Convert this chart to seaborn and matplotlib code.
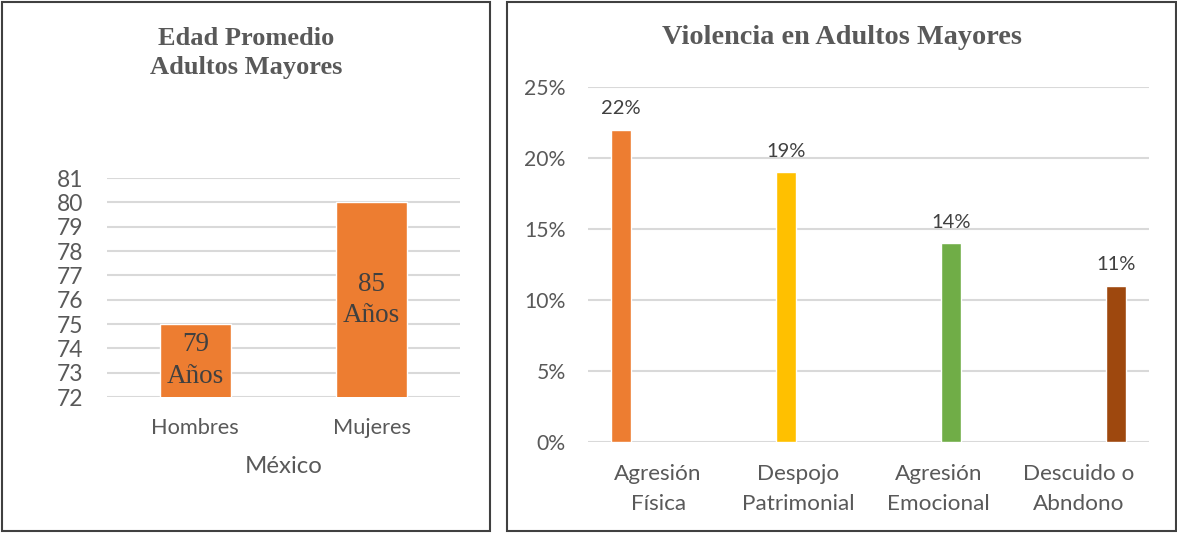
import matplotlib
matplotlib.use("Agg")
import matplotlib.pyplot as plt
import matplotlib.patches as mpatches
import seaborn as sns
import pandas as pd

# ---- data ----
edad_categorias = ["Hombres", "Mujeres"]
edad_alturas = [75, 80]
edad_etiquetas = [79, 85]
edad_ticks = list(range(72, 82))

viol_categorias = ["Agresión\nFísica", "Despojo\nPatrimonial", "Agresión\nEmocional", "Descuido o\nAbndono"]
viol_valores = [0.22, 0.19, 0.14, 0.11]
viol_ticks = [0.0, 0.05, 0.10, 0.15, 0.20, 0.25]
viol_colores = ["#ED7D31", "#FFC000", "#70AD47", "#9E480E"]

sns.set_theme(style="whitegrid")
plt.rcParams["font.family"] = ["Lato", "DejaVu Sans"]

W, H = 1177, 533
fig = plt.figure(figsize=(W / 100, H / 100), dpi=100)
fig.patch.set_facecolor("white")

tick_col = "#595959"
grid_col = "#D9D9D9"

def px_axes(x0, y0, x1, y1):
    return fig.add_axes([x0 / W, 1 - y1 / H, (x1 - x0) / W, (y1 - y0) / H])

# ---- left chart ----
ax1 = px_axes(107, 178, 460, 397)
df1 = pd.DataFrame({"cat": edad_categorias, "val": edad_alturas})
sns.barplot(data=df1, x="cat", y="val", color="#ED7D31", width=0.4,
            saturation=1, ax=ax1, errorbar=None)
ax1.set_ylim(72, 81)
ax1.set_yticks(edad_ticks)
ax1.set_xlim(-0.5, 1.5)
for sp in ax1.spines.values():
    sp.set_visible(False)
ax1.grid(axis="y", color=grid_col, linewidth=1.5)
ax1.grid(axis="x", visible=False)
ax1.set_axisbelow(True)
ax1.tick_params(axis="y", length=0, pad=17, labelsize=16.5, labelcolor=tick_col)
ax1.tick_params(axis="x", length=0, pad=15, labelsize=15.7, labelcolor=tick_col)
ax1.set_ylabel("")
ax1.set_xlabel("México", fontsize=17.3, color=tick_col, labelpad=13)
ax1.bar_label(ax1.containers[0], labels=[f"{v}\nAños" for v in edad_etiquetas],
              label_type="center", fontsize=19.5, color="#404040",
              family="Liberation Serif", linespacing=1.33)

# ---- right chart ----
ax2 = px_axes(588, 87, 1149, 442)
df2 = pd.DataFrame({"cat": viol_categorias, "serie": viol_categorias, "val": viol_valores})
sns.barplot(data=df2, x="cat", y="val", hue="serie", hue_order=viol_categorias,
            palette=viol_colores, dodge=True, width=0.713, gap=0.2,
            saturation=1, legend=False, ax=ax2, errorbar=None)
ax2.set_ylim(0, 0.25)
ax2.set_yticks(viol_ticks)
ax2.set_yticklabels([f"{t:.0%}" for t in viol_ticks])
ax2.set_xlim(-0.5, 3.5)
for sp in ax2.spines.values():
    sp.set_visible(False)
ax2.grid(axis="y", color=grid_col, linewidth=1.5)
ax2.grid(axis="x", visible=False)
ax2.set_axisbelow(True)
ax2.tick_params(axis="y", length=0, pad=16, labelsize=15.2, labelcolor=tick_col)
ax2.tick_params(axis="x", length=0, pad=16, labelsize=16.2, labelcolor=tick_col)
for lab in ax2.get_xticklabels():
    lab.set_linespacing(1.6)
ax2.set_xlabel("")
ax2.set_ylabel("")
for cont, v in zip(ax2.containers, viol_valores):
    ax2.bar_label(cont, labels=[f"{v:.0%}"], padding=9, fontsize=14.5, color="#404040")

# ---- titles ----
fig.text(246 / W, 1 - 53 / H, "Edad Promedio\nAdultos Mayores", ha="center", va="center",
         fontsize=19, fontweight="bold", color=tick_col, family="Liberation Serif",
         linespacing=1.3)
fig.text(842 / W, 1 - 38 / H, "Violencia en Adultos Mayores", ha="center", va="center",
         fontsize=20.3, fontweight="bold", color=tick_col, family="Liberation Serif")

# ---- panel borders ----
fig.patches.append(mpatches.Rectangle((2 / W, 2 / H), 488 / W, 529 / H, transform=fig.transFigure,
                                      fill=False, edgecolor="#404040", linewidth=1.5))
fig.patches.append(mpatches.Rectangle((507 / W, 2 / H), 669 / W, 529 / H, transform=fig.transFigure,
                                      fill=False, edgecolor="#404040", linewidth=1.5))

fig.savefig("out.png", dpi=100)
